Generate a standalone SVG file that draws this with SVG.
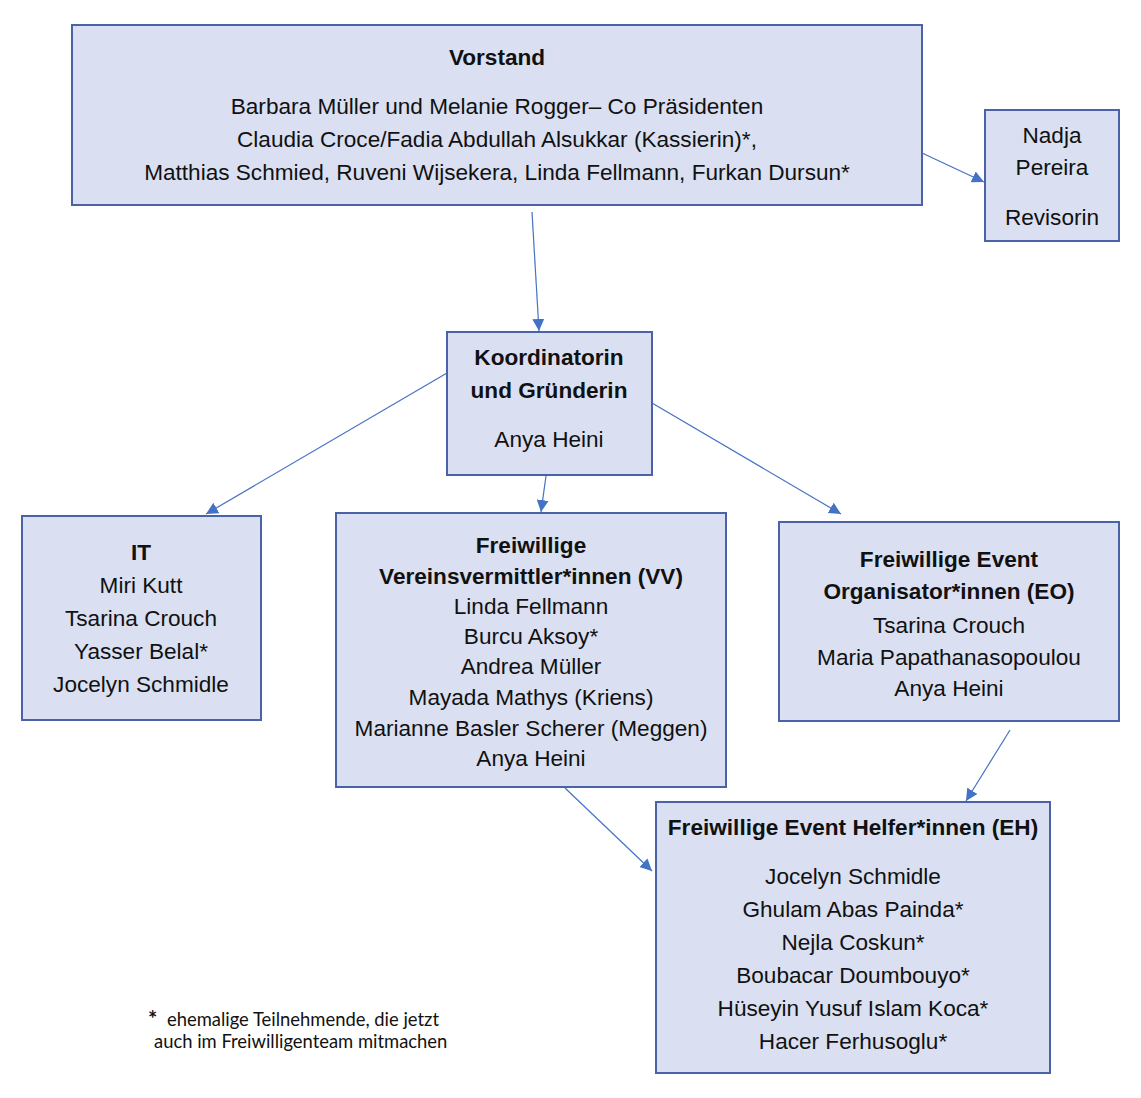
<svg xmlns="http://www.w3.org/2000/svg" width="1141" height="1098" viewBox="0 0 1141 1098">
<defs>
<style>
.box{fill:#dae0f2;stroke:#4a62a6;stroke-width:2}
text{font-family:"Liberation Sans",Arial,sans-serif;font-size:22.6px;fill:#111;text-anchor:middle}
.b{font-weight:bold}
.fn{font-family:Lato,"Open Sans",sans-serif;font-size:18.4px;text-anchor:start}
.con{stroke:#4472c4;stroke-width:1.2;fill:none;marker-end:url(#ah)}
</style>
<marker id="ah" viewBox="0 0 10 10" refX="10" refY="5" markerWidth="12" markerHeight="12" markerUnits="userSpaceOnUse" orient="auto">
<path d="M0,0 L10,5 L0,10 z" fill="#4472c4"/>
</marker>
</defs>
<rect width="1141" height="1098" fill="#fff"/>
<g id="connectors">
<line class="con" x1="532" y1="212" x2="539" y2="331"/>
<line class="con" x1="922" y1="153" x2="984" y2="182"/>
<line class="con" x1="447" y1="373" x2="206" y2="514"/>
<line class="con" x1="546" y1="476" x2="541" y2="512"/>
<line class="con" x1="652" y1="403" x2="841" y2="514"/>
<line class="con" x1="565" y1="788" x2="652" y2="871"/>
<line class="con" x1="1010" y1="730" x2="966" y2="801"/>
</g>
<g id="vorstand">
<rect class="box" x="72" y="25" width="850" height="180"/>
<text class="b" x="497" y="65">Vorstand</text>
<text x="497" y="114">Barbara Müller und Melanie Rogger– Co Präsidenten</text>
<text x="497" y="147">Claudia Croce/Fadia Abdullah Alsukkar (Kassierin)*,</text>
<text x="497" y="180">Matthias Schmied, Ruveni Wijsekera, Linda Fellmann, Furkan Dursun*</text>
</g>
<g id="revisorin">
<rect class="box" x="985" y="110" width="134" height="131"/>
<text x="1052" y="143">Nadja</text>
<text x="1052" y="175">Pereira</text>
<text x="1052" y="225">Revisorin</text>
</g>
<g id="koordinatorin">
<rect class="box" x="447" y="332" width="205" height="143"/>
<text class="b" x="549" y="365">Koordinatorin</text>
<text class="b" x="549" y="398">und Gründerin</text>
<text x="549" y="447">Anya Heini</text>
</g>
<g id="it">
<rect class="box" x="22" y="516" width="239" height="204"/>
<text class="b" x="141" y="560">IT</text>
<text x="141" y="593">Miri Kutt</text>
<text x="141" y="626">Tsarina Crouch</text>
<text x="141" y="659">Yasser Belal*</text>
<text x="141" y="692">Jocelyn Schmidle</text>
</g>
<g id="vv">
<rect class="box" x="336" y="513" width="390" height="274"/>
<text class="b" x="531" y="553">Freiwillige</text>
<text class="b" x="531" y="584">Vereinsvermittler*innen (VV)</text>
<text x="531" y="614">Linda Fellmann</text>
<text x="531" y="644">Burcu Aksoy*</text>
<text x="531" y="674">Andrea Müller</text>
<text x="531" y="705">Mayada Mathys (Kriens)</text>
<text x="531" y="736">Marianne Basler Scherer (Meggen)</text>
<text x="531" y="766">Anya Heini</text>
</g>
<g id="eo">
<rect class="box" x="779" y="522" width="340" height="199"/>
<text class="b" x="949" y="567">Freiwillige Event</text>
<text class="b" x="949" y="599">Organisator*innen (EO)</text>
<text x="949" y="633">Tsarina Crouch</text>
<text x="949" y="665">Maria Papathanasopoulou</text>
<text x="949" y="696">Anya Heini</text>
</g>
<g id="eh">
<rect class="box" x="656" y="802" width="394" height="271"/>
<text class="b" x="853" y="835">Freiwillige Event Helfer*innen (EH)</text>
<text x="853" y="884">Jocelyn Schmidle</text>
<text x="853" y="917">Ghulam Abas Painda*</text>
<text x="853" y="950">Nejla Coskun*</text>
<text x="853" y="983">Boubacar Doumbouyo*</text>
<text x="853" y="1016">Hüseyin Yusuf Islam Koca*</text>
<text x="853" y="1049">Hacer Ferhusoglu*</text>
</g>
<g id="footnote">
<text class="fn" x="148" y="1027" style="font-size:22px;font-weight:bold">*</text>
<text class="fn" x="167" y="1026">ehemalige Teilnehmende, die jetzt</text>
<text class="fn" x="154" y="1048">auch im Freiwilligenteam mitmachen</text>
</g>
</svg>
